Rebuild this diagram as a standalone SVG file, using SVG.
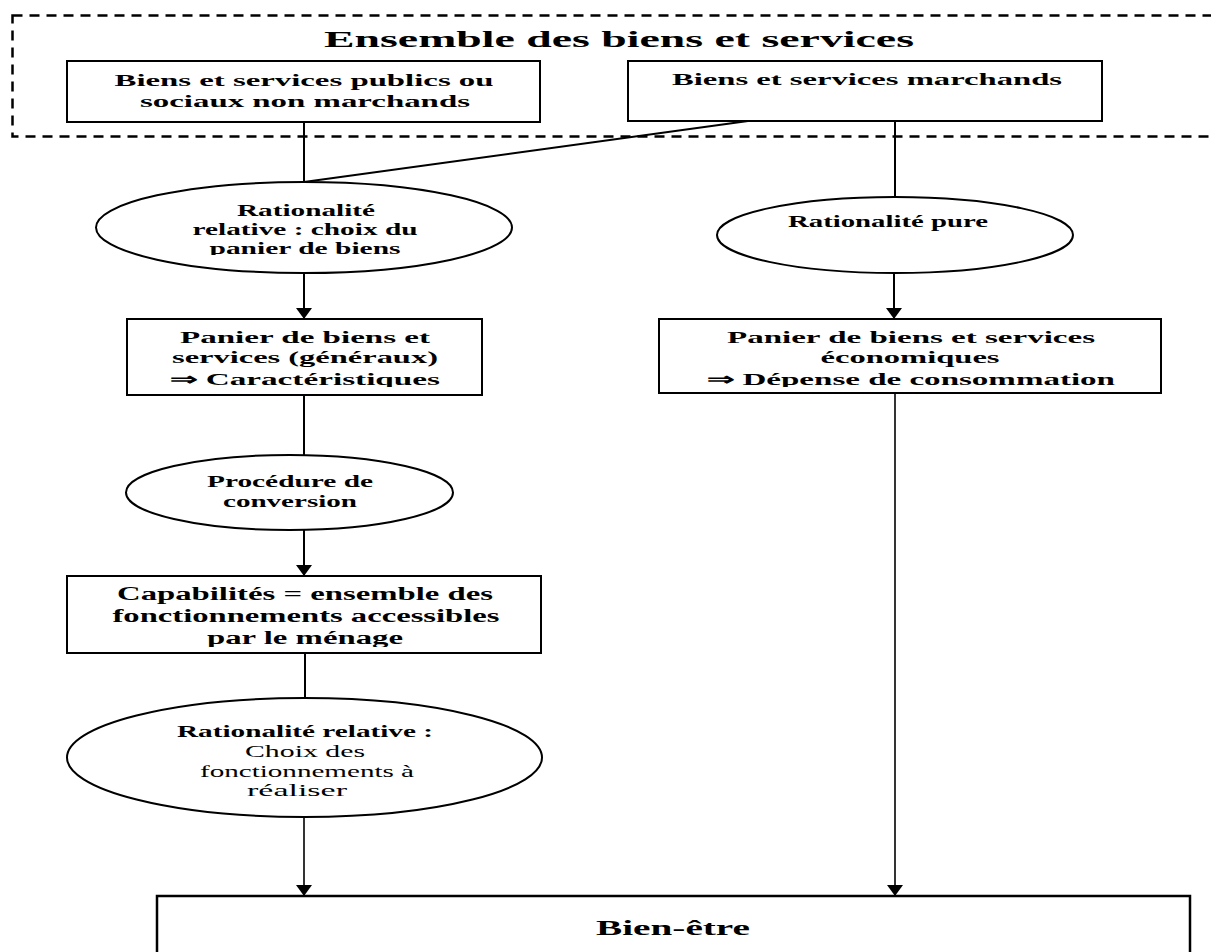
<svg xmlns="http://www.w3.org/2000/svg" width="1211" height="952" viewBox="0 0 1211 952">
<style>
.bx{fill:#fff;stroke:#000;stroke-width:2}
.el{fill:#fff;stroke:#000;stroke-width:2}
.t{font-family:"Liberation Serif","Times New Roman",serif;font-weight:bold;fill:#000;text-anchor:middle}
.r{font-weight:normal}
.c{fill:none;stroke:#000;stroke-width:2}
.ca{fill:none;stroke:#000;stroke-width:1.6}
</style>
<defs>
<marker id="ah" viewBox="0 -8 11 16" markerWidth="11" markerHeight="16" refX="11" refY="0" orient="auto" markerUnits="userSpaceOnUse">
<path d="M0,-8 L11,0 L0,8 z" fill="#000"/>
</marker>
<clipPath id="cp1"><rect x="90" y="180" width="430" height="75"/></clipPath>
<clipPath id="cp3"><rect x="120" y="315" width="370" height="72"/></clipPath>
<clipPath id="cp4"><rect x="650" y="315" width="520" height="72"/></clipPath>
<clipPath id="cp5"><rect x="60" y="570" width="490" height="77"/></clipPath>
</defs>
<rect width="1211" height="952" fill="#fff"/>

<g id="ensemble">
<rect x="12.5" y="15.5" width="1260" height="121" fill="none" stroke="#000" stroke-width="2.5" stroke-dasharray="10,7"/>
<text class="t" x="619" y="47" font-size="23" textLength="590" lengthAdjust="spacingAndGlyphs">Ensemble des biens et services</text>
</g>

<g id="connectors">
<line class="c" x1="304" y1="122" x2="304" y2="182"/>
<line class="c" x1="304" y1="182" x2="748" y2="121"/>
<line class="c" x1="895" y1="121" x2="895" y2="197"/>
<line class="c" x1="304" y1="273" x2="304" y2="319" marker-end="url(#ah)"/>
<line class="c" x1="894" y1="273" x2="894" y2="319" marker-end="url(#ah)"/>
<line class="c" x1="304" y1="395" x2="304" y2="455"/>
<line class="c" x1="304" y1="530" x2="304" y2="576" marker-end="url(#ah)"/>
<line class="c" x1="305" y1="653" x2="305" y2="698"/>
<line class="ca" x1="304" y1="817" x2="304" y2="896" marker-end="url(#ah)"/>
<line class="ca" x1="895" y1="393" x2="895" y2="896" marker-end="url(#ah)"/>
</g>

<g id="publics">
<rect class="bx" x="67" y="61" width="473" height="61"/>
<text class="t" x="304" y="86" font-size="17" textLength="379" lengthAdjust="spacingAndGlyphs">Biens et services publics ou</text>
<text class="t" x="305" y="107" font-size="17" textLength="330" lengthAdjust="spacingAndGlyphs">sociaux non marchands</text>
</g>

<g id="marchands">
<rect class="bx" x="628" y="61" width="474" height="60"/>
<text class="t" x="867" y="85" font-size="17" textLength="390" lengthAdjust="spacingAndGlyphs">Biens et services marchands</text>
</g>

<g id="rat-relative-1">
<ellipse class="el" cx="304" cy="227.5" rx="208" ry="45.5"/>
<g clip-path="url(#cp1)">
<text class="t" x="306" y="216" font-size="16" textLength="138" lengthAdjust="spacingAndGlyphs">Rationalité</text>
<text class="t" x="305" y="235" font-size="16" textLength="225" lengthAdjust="spacingAndGlyphs">relative : choix du</text>
<text class="t" x="305" y="254" font-size="16" textLength="191" lengthAdjust="spacingAndGlyphs">panier de biens</text>
</g>
</g>

<g id="rat-pure">
<ellipse class="el" cx="895" cy="235" rx="178" ry="38"/>
<text class="t" x="888" y="227" font-size="16.5" textLength="200" lengthAdjust="spacingAndGlyphs">Rationalité pure</text>
</g>

<g id="panier-generaux">
<rect class="bx" x="127" y="319" width="355" height="76"/>
<g clip-path="url(#cp3)">
<text class="t" x="305" y="343" font-size="17" textLength="250" lengthAdjust="spacingAndGlyphs">Panier de biens et</text>
<text class="t" x="305" y="363" font-size="17" textLength="266" lengthAdjust="spacingAndGlyphs">services (généraux)</text>
<text class="t" x="305" y="385" font-size="17" textLength="270" lengthAdjust="spacingAndGlyphs">⇒ Caractéristiques</text>
</g>
</g>

<g id="panier-economiques">
<rect class="bx" x="659" y="319" width="502" height="74"/>
<g clip-path="url(#cp4)">
<text class="t" x="911" y="343" font-size="17" textLength="368" lengthAdjust="spacingAndGlyphs">Panier de biens et services</text>
<text class="t" x="910" y="363" font-size="17" textLength="179" lengthAdjust="spacingAndGlyphs">économiques</text>
<text class="t" x="911" y="385" font-size="17" textLength="408" lengthAdjust="spacingAndGlyphs">⇒ Dépense de consommation</text>
</g>
</g>

<g id="conversion">
<ellipse class="el" cx="289.5" cy="492.5" rx="163.5" ry="37.5"/>
<text class="t" x="290" y="487" font-size="17" textLength="166" lengthAdjust="spacingAndGlyphs">Procédure de</text>
<text class="t" x="290" y="507" font-size="17" textLength="134" lengthAdjust="spacingAndGlyphs">conversion</text>
</g>

<g id="capabilites">
<rect class="bx" x="67" y="576" width="474" height="77"/>
<g clip-path="url(#cp5)">
<text class="t" x="305" y="600" font-size="18" textLength="376" lengthAdjust="spacingAndGlyphs">Capabilités = ensemble des</text>
<text class="t" x="306" y="622" font-size="18" textLength="387" lengthAdjust="spacingAndGlyphs">fonctionnements accessibles</text>
<text class="t" x="305" y="644" font-size="18" textLength="196" lengthAdjust="spacingAndGlyphs">par le ménage</text>
</g>
</g>

<g id="rat-relative-2">
<ellipse class="el" cx="304.5" cy="757.5" rx="237.5" ry="59.5"/>
<text class="t" x="305" y="737" font-size="17" textLength="256" lengthAdjust="spacingAndGlyphs">Rationalité relative :</text>
<text class="t r" x="305" y="757" font-size="17" textLength="120" lengthAdjust="spacingAndGlyphs">Choix des</text>
<text class="t r" x="307" y="777" font-size="17" textLength="214" lengthAdjust="spacingAndGlyphs">fonctionnements à</text>
<text class="t r" x="297" y="796" font-size="17" textLength="100" lengthAdjust="spacingAndGlyphs">réaliser</text>
</g>

<g id="bien-etre">
<rect x="157" y="896" width="1033" height="80" fill="#fff" stroke="#000" stroke-width="2.5"/>
<text class="t" x="673" y="935" font-size="22" textLength="154" lengthAdjust="spacingAndGlyphs">Bien-être</text>
</g>
</svg>
